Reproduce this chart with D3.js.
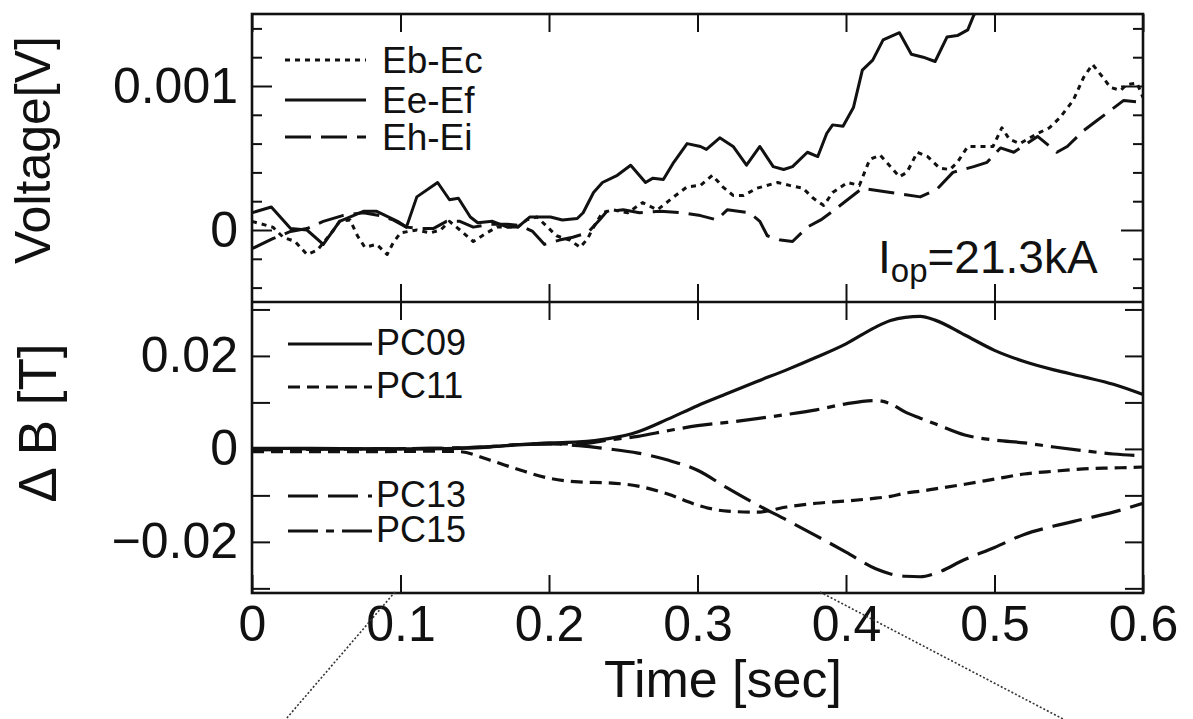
<!DOCTYPE html>
<html>
<head>
<meta charset="utf-8">
<script src="https://cdn.jsdelivr.net/npm/d3@7"></script>
<style>
  body { margin: 0; background: #fff; }
  svg text { font-family: "Liberation Sans", Arial, Helvetica, sans-serif; fill: #111; }
</style>
</head>
<body>
<svg id="chart" width="1193" height="719"></svg>
<script>
// Upper panel: electrode voltages (V) vs time (s)
const tEbEc = [0, 0.014, 0.021, 0.029, 0.037, 0.044, 0.055, 0.059, 0.066, 0.071, 0.076, 0.084, 0.091, 0.095, 0.100,
  0.111, 0.120, 0.127, 0.133, 0.140, 0.149, 0.158, 0.165, 0.179, 0.185, 0.192, 0.199, 0.205, 0.214, 0.221,
  0.226, 0.230, 0.236, 0.243, 0.253, 0.263, 0.273, 0.284, 0.293, 0.302, 0.310, 0.317, 0.324, 0.331, 0.340,
  0.354, 0.362, 0.371, 0.378, 0.385, 0.391, 0.401, 0.409, 0.416, 0.423, 0.430, 0.436, 0.441, 0.448, 0.455,
  0.463, 0.470, 0.475, 0.482, 0.490, 0.499, 0.505, 0.510, 0.517, 0.529, 0.537, 0.544, 0.553, 0.560, 0.566,
  0.573, 0.578, 0.585, 0.589, 0.596, 0.600];
const vEbEc = [0.00006, 0.00002, -0.00005, -0.00008, -0.00017, -0.00014, 0, 0.00006, 0.00007, -0.00004, -0.00012, -0.00010, -0.00017, -0.00009, -0.00002,
  0, -0.00002, 0, 0.00006, 0, -0.00008, -0.00002, 0.00002, 0.00002, 0.00007, 0.00009, 0.00002, -0.00004, -0.00007, -0.00012,
  -0.00006, 0.00002, 0.00012, 0.00014, 0.00012, 0.00019, 0.00014, 0.00023, 0.00030, 0.00031, 0.00038, 0.00030, 0.00024, 0.00024, 0.00029,
  0.00033, 0.00031, 0.00029, 0.00022, 0.00017, 0.00026, 0.00033, 0.00031, 0.00049, 0.00052, 0.00044, 0.00037, 0.00040, 0.00054, 0.00051,
  0.00043, 0.00042, 0.00047, 0.00058, 0.00058, 0.00058, 0.00071, 0.00063, 0.00060, 0.00067, 0.00071, 0.00078, 0.00090, 0.00106, 0.00115,
  0.00106, 0.00099, 0.00097, 0.00101, 0.00102, 0.00092];

const tEeEf = [0, 0.013, 0.026, 0.037, 0.048, 0.059, 0.075, 0.084, 0.098, 0.104, 0.111, 0.125, 0.133, 0.139, 0.147,
  0.152, 0.162, 0.172, 0.179, 0.187, 0.201, 0.209, 0.219, 0.223, 0.230, 0.236, 0.246, 0.255, 0.265, 0.270,
  0.277, 0.284, 0.293, 0.302, 0.306, 0.315, 0.324, 0.333, 0.342, 0.351, 0.358, 0.364, 0.374, 0.381, 0.387,
  0.391, 0.398, 0.405, 0.411, 0.418, 0.425, 0.436, 0.444, 0.452, 0.460, 0.468, 0.475, 0.482, 0.486, 0.492];
const vEeEf = [0.00012, 0.00016, 0.00001, 0, -0.00010, 0.00006, 0.00013, 0.00013, 0.00006, 0.00002, 0.00023, 0.00033, 0.00021, 0.00022, 0.00009,
  0.00005, 0.00006, 0.00002, 0.00002, 0.00009, 0.00009, 0.00007, 0.00008, 0.00012, 0.00026, 0.00033, 0.00038, 0.00045, 0.00033, 0.00036,
  0.00035, 0.00047, 0.00060, 0.00058, 0.00056, 0.00064, 0.00058, 0.00045, 0.00058, 0.00044, 0.00042, 0.00044, 0.00054, 0.00051, 0.00067,
  0.00073, 0.00072, 0.00085, 0.00111, 0.00118, 0.00132, 0.00137, 0.00122, 0.00120, 0.00117, 0.00134, 0.00135, 0.00139, 0.00149, 0.00158];

const tEhEi = [0, 0.014, 0.026, 0.037, 0.048, 0.061, 0.075, 0.086, 0.095, 0.104, 0.113, 0.122, 0.131, 0.140, 0.149,
  0.160, 0.172, 0.181, 0.189, 0.197, 0.207, 0.216, 0.226, 0.234, 0.239, 0.250, 0.261, 0.275, 0.290, 0.302,
  0.313, 0.320, 0.335, 0.342, 0.347, 0.356, 0.364, 0.374, 0.383, 0.391, 0.401, 0.411, 0.430, 0.450, 0.461,
  0.472, 0.486, 0.495, 0.504, 0.513, 0.529, 0.542, 0.549, 0.560, 0.569, 0.587, 0.596, 0.600];
const vEhEi = [-0.00013, -0.00006, -0.00001, 0.00001, 0.00006, 0.00010, 0.00012, 0.00010, 0.00007, 0.00002, 0.00001, 0.00001, 0.00006, 0.00006, 0.00002,
  0.00004, 0.00004, 0.00003, -0.00001, -0.00010, -0.00007, -0.00005, -0.00002, 0.00007, 0.00013, 0.00014, 0.00012, 0.00013, 0.00012, 0.00010,
  0.00007, 0.00014, 0.00012, 0.00006, -0.00004, -0.00007, -0.00008, 0.00002, 0.00007, 0.00013, 0.00021, 0.00029, 0.00026, 0.00023, 0.00028,
  0.00040, 0.00044, 0.00047, 0.00057, 0.00054, 0.00065, 0.00054, 0.00058, 0.00069, 0.00076, 0.00090, 0.00089, 0.00087];

// Lower panel: field change (T) of pickup coils
const bTime = [0, 0.04, 0.08, 0.12, 0.14, 0.16, 0.18, 0.20, 0.22, 0.24, 0.26, 0.28, 0.30, 0.32, 0.34,
  0.36, 0.38, 0.40, 0.42, 0.43, 0.44, 0.45, 0.46, 0.48, 0.50, 0.52, 0.54, 0.56, 0.58, 0.60];
const bPC09 = [0.0001, 0.0001, 0, 0, 0.0001, 0.0004, 0.0009, 0.0013, 0.0015, 0.0022, 0.0037, 0.0064, 0.0093, 0.0119, 0.0145,
  0.0170, 0.0197, 0.0226, 0.0262, 0.0276, 0.0283, 0.0285, 0.0277, 0.0245, 0.0212, 0.0188, 0.0170, 0.0155, 0.0139, 0.0117];
const bPC11 = [-0.0006, -0.0006, -0.0006, -0.0005, -0.0006, -0.0024, -0.0045, -0.0063, -0.0071, -0.0073, -0.0080, -0.0097, -0.0121, -0.0134, -0.0136,
  -0.0125, -0.0117, -0.0112, -0.0106, -0.0102, -0.0095, -0.0091, -0.0086, -0.0076, -0.0065, -0.0054, -0.0048, -0.0043, -0.0041, -0.0039];
const bPC13 = [0, 0, 0, 0.0001, 0.0002, 0.0005, 0.0009, 0.0011, 0.0007, 0, -0.0009, -0.0024, -0.0046, -0.0084, -0.0120,
  -0.0153, -0.0187, -0.0222, -0.0258, -0.0269, -0.0274, -0.0275, -0.0268, -0.0238, -0.0212, -0.0184, -0.0166, -0.0151, -0.0136, -0.0117];
const bPC15 = [-0.0002, -0.0001, 0, 0.0001, 0.0002, 0.0005, 0.0009, 0.0011, 0.0011, 0.0019, 0.0027, 0.0039, 0.0050, 0.0057, 0.0065,
  0.0074, 0.0084, 0.0097, 0.0104, 0.0097, 0.0079, 0.0066, 0.0054, 0.0030, 0.0019, 0.0013, 0.0004, -0.0004, -0.0011, -0.0015];

const xTicks = [0, 0.1, 0.2, 0.3, 0.4, 0.5, 0.6];
const vMinorTicks = [-0.0004, -0.0002, 0.0002, 0.0004, 0.0006, 0.0008, 0.0012, 0.0014];
const vMajorTicks = [0, 0.001];
const bTicks = [-0.03, -0.02, -0.01, 0, 0.01, 0.02, 0.03];
const bLabeled = [-0.02, 0, 0.02];

const upperNames = ['Eb-Ec', 'Ee-Ef', 'Eh-Ei'];
const lowerNames = ['PC09', 'PC11', 'PC13', 'PC15'];

// layout (note: "top" is reserved on window, so use other names)
var pLeft = 252, pRight = 1143, pTop = 14, pMid = 302, pBottom = 593;

var svg = d3.select('#chart');
svg.append('rect').attr('width', 1193).attr('height', 719).attr('fill', '#fff');

var x = d3.scaleLinear().domain([0, 0.6]).range([pLeft, pRight]);
var yV = d3.scaleLinear().domain([-0.0005, 0.0015]).range([pMid, pTop]);
var yB = d3.scaleLinear().domain([-0.031, 0.0316]).range([pBottom, pMid]);

var defs = svg.append('defs');
defs.append('clipPath').attr('id', 'clipU').append('rect')
    .attr('x', pLeft).attr('y', pTop).attr('width', pRight - pLeft).attr('height', pMid - pTop);
defs.append('clipPath').attr('id', 'clipL').append('rect')
    .attr('x', pLeft).attr('y', pMid).attr('width', pRight - pLeft).attr('height', pBottom - pMid);

// line styles
var dashU = { 'Eb-Ec': '5,5', 'Ee-Ef': null, 'Eh-Ei': '26,10' };
var dashL = { 'PC09': null, 'PC11': '12,7', 'PC13': '30,10', 'PC15': '30,8,8,8' };

var upperSeries = [
    { name: 'Eb-Ec', t: tEbEc, v: vEbEc },
    { name: 'Ee-Ef', t: tEeEf, v: vEeEf },
    { name: 'Eh-Ei', t: tEhEi, v: vEhEi }
];
var lowerSeries = [
    { name: 'PC09', v: bPC09 },
    { name: 'PC11', v: bPC11 },
    { name: 'PC13', v: bPC13 },
    { name: 'PC15', v: bPC15 }
];

var lineU = d3.line().x(d => x(d[0])).y(d => yV(d[1]));
var lineL = d3.line().x(d => x(d[0])).y(d => yB(d[1])).curve(d3.curveMonotoneX);

svg.append('g').attr('clip-path', 'url(#clipU)')
  .selectAll('path').data(upperSeries).enter().append('path')
    .attr('d', s => lineU(s.t.map((t, i) => [t, s.v[i]])))
    .attr('fill', 'none').attr('stroke', '#111').attr('stroke-width', 3)
    .attr('stroke-linejoin', 'round')
    .attr('stroke-dasharray', s => dashU[s.name]);

svg.append('g').attr('clip-path', 'url(#clipL)')
  .selectAll('path').data(lowerSeries).enter().append('path')
    .attr('d', s => lineL(bTime.map((t, i) => [t, s.v[i]])))
    .attr('fill', 'none').attr('stroke', '#111').attr('stroke-width', 3.2)
    .attr('stroke-dasharray', s => dashL[s.name]);

// axes (ticks inward)
function styleAxis(g) {
    g.select('.domain').remove();
    g.selectAll('.tick line').attr('stroke', '#111').attr('stroke-width', 2);
    g.selectAll('.tick text').attr('font-size', 50).attr('fill', '#111')
        .attr('font-family', '"Liberation Sans", Arial, sans-serif');
}

var fmtX = d => d === 0 ? '0' : d3.format('.1f')(d);
var fmtV = d => d === 0 ? '0' : d3.format('.3f')(d);
var fmtB = d => bLabeled.includes(d) ? (d === 0 ? '0' : d3.format('.2f')(d)) : '';

// upper panel
svg.append('g').attr('transform', `translate(0,${pTop})`)
    .call(d3.axisTop(x).tickValues(xTicks).tickSize(-18).tickFormat('')).call(styleAxis);
svg.append('g').attr('transform', `translate(0,${pMid})`)
    .call(d3.axisBottom(x).tickValues(xTicks.slice(1, -1)).tickSize(-18).tickFormat('')).call(styleAxis);
svg.append('g').attr('transform', `translate(${pLeft},0)`)
    .call(d3.axisLeft(yV).tickValues(vMinorTicks).tickSize(-10).tickFormat('')).call(styleAxis);
svg.append('g').attr('transform', `translate(${pLeft},0)`)
    .call(d3.axisLeft(yV).tickValues(vMajorTicks).tickSize(-20).tickPadding(14).tickFormat(fmtV)).call(styleAxis);
svg.append('g').attr('transform', `translate(${pRight},0)`)
    .call(d3.axisRight(yV).tickValues(vMinorTicks).tickSize(-10).tickFormat('')).call(styleAxis);
svg.append('g').attr('transform', `translate(${pRight},0)`)
    .call(d3.axisRight(yV).tickValues(vMajorTicks).tickSize(-22).tickFormat('')).call(styleAxis);

// lower panel
svg.append('g').attr('transform', `translate(0,${pMid})`)
    .call(d3.axisTop(x).tickValues(xTicks.slice(1, -1)).tickSize(-18).tickFormat('')).call(styleAxis);
svg.append('g').attr('transform', `translate(0,${pBottom})`)
    .call(d3.axisBottom(x).tickValues(xTicks).tickSize(-18).tickPadding(12).tickFormat(fmtX)).call(styleAxis);
svg.append('g').attr('transform', `translate(${pLeft},0)`)
    .call(d3.axisLeft(yB).tickValues(bTicks).tickSize(-18).tickPadding(14).tickFormat(fmtB)).call(styleAxis);
svg.append('g').attr('transform', `translate(${pRight},0)`)
    .call(d3.axisRight(yB).tickValues(bTicks).tickSize(-18).tickFormat('')).call(styleAxis);

// frames
svg.append('rect').attr('x', pLeft).attr('y', pTop).attr('width', pRight - pLeft).attr('height', pBottom - pTop)
    .attr('fill', 'none').attr('stroke', '#111').attr('stroke-width', 2.6);
svg.append('line').attr('x1', pLeft).attr('x2', pRight).attr('y1', pMid).attr('y2', pMid)
    .attr('stroke', '#111').attr('stroke-width', 2.6);

// legends
var legU = svg.append('g').selectAll('g').data(upperNames).enter().append('g')
    .attr('transform', (d, i) => `translate(0,${[73, 113, 150][i]})`);
legU.append('line').attr('x1', 285).attr('x2', 366).attr('y1', -13).attr('y2', -13)
    .attr('stroke', '#111').attr('stroke-width', 3).attr('stroke-dasharray', d => dashU[d]);
legU.append('text').attr('x', 382).attr('font-size', 37).text(d => d);

var legL = svg.append('g').selectAll('g').data(lowerNames).enter().append('g')
    .attr('transform', (d, i) => `translate(0,${[355, 398, 507, 542][i]})`);
legL.append('line').attr('x1', 288).attr('x2', 372).attr('y1', -11).attr('y2', -11)
    .attr('stroke', '#111').attr('stroke-width', 3.2).attr('stroke-dasharray', d => dashL[d]);
legL.append('text').attr('x', 376).attr('font-size', 36).text(d => d);

// operating current annotation
var iop = svg.append('text').attr('x', 878).attr('y', 273).attr('font-size', 46);
iop.append('tspan').text('I');
iop.append('tspan').attr('font-size', 33).attr('dy', 9).text('op');
iop.append('tspan').attr('dy', -9).text('=21.3kA');

// axis titles
svg.append('text').attr('transform', 'translate(50,150) rotate(-90)')
    .attr('text-anchor', 'middle').attr('font-size', 50).text('Voltage[V]');
svg.append('text').attr('transform', 'translate(56,423) rotate(-90)')
    .attr('text-anchor', 'middle').attr('font-size', 53).text('Δ B [T]');
svg.append('text').attr('x', 723).attr('y', 697)
    .attr('text-anchor', 'middle').attr('font-size', 52).text('Time [sec]');

// zoom guide lines leaving the figure
svg.append('g').selectAll('line').data([[395, 592, 286, 719], [820, 592, 1063, 719]]).enter()
  .append('line')
    .attr('x1', d => d[0]).attr('y1', d => d[1]).attr('x2', d => d[2]).attr('y2', d => d[3])
    .attr('stroke', '#333').attr('stroke-width', 1.6).attr('stroke-dasharray', '2,2');
</script>
</body>
</html>
